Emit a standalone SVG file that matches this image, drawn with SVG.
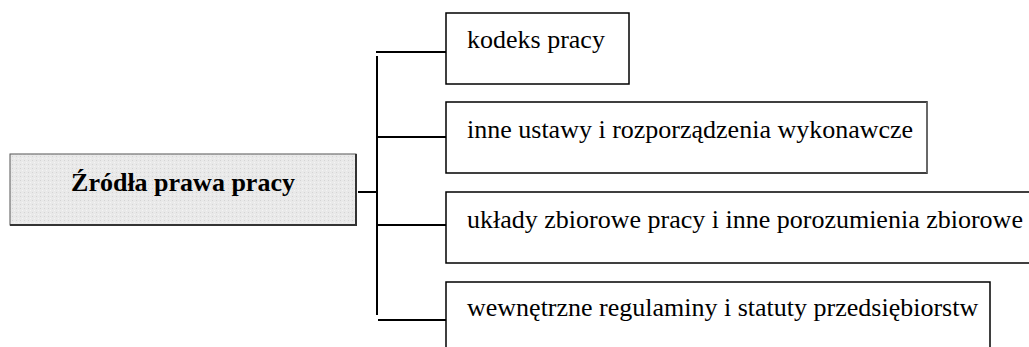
<svg xmlns="http://www.w3.org/2000/svg" width="1029" height="347" viewBox="0 0 1029 347">
<style>
.box{fill:#ffffff;stroke:#000000;stroke-width:1.5}
.t{font-family:'Liberation Serif','Times New Roman',serif;font-size:26px;fill:#000000}
.title{font-family:'Liberation Serif','Times New Roman',serif;font-size:26px;font-weight:bold;fill:#000000}
.conn line{stroke:#000000;stroke-width:2}
</style>
<defs>
<pattern id="dots" width="4" height="4" patternUnits="userSpaceOnUse">
<rect width="4" height="4" fill="#e9e9e9"/>
<rect x="0" y="0" width="1" height="1" fill="#d4d4d4"/>
<rect x="2" y="2" width="1" height="1" fill="#f4f4f4"/>
</pattern>
</defs>
<g id="main">
<rect x="10" y="154" width="346" height="71" fill="url(#dots)" stroke="#555555" stroke-width="1"/>
<polyline points="356,154 356,225 10,225" fill="none" stroke="#333333" stroke-width="2"/>
<text class="title" x="183" y="191" text-anchor="middle">Źródła prawa pracy</text>
</g>
<g id="conn" class="conn">
<line x1="377" y1="56" x2="377" y2="315"/>
<line x1="358" y1="192" x2="376" y2="192"/>
<line x1="376" y1="52" x2="446" y2="52"/>
<line x1="377" y1="137" x2="446" y2="137"/>
<line x1="377" y1="225" x2="446" y2="225"/>
<line x1="378" y1="320" x2="446" y2="320"/>
</g>
<g id="n1">
<rect class="box" x="446" y="13" width="183" height="71"/>
<text class="t" x="467" y="48">kodeks pracy</text>
</g>
<g id="n2">
<rect class="box" x="446" y="102" width="481" height="71"/>
<line x1="927" y1="102" x2="927" y2="173" stroke="#777777" stroke-width="1.5"/>
<text class="t" x="467" y="138">inne ustawy i rozporządzenia wykonawcze</text>
</g>
<g id="n3">
<rect class="box" x="446" y="192" width="600" height="71"/>
<text class="t" x="467" y="228">układy zbiorowe pracy i inne porozumienia zbiorowe</text>
</g>
<g id="n4">
<rect class="box" x="446" y="282" width="544" height="71"/>
<text class="t" x="467" y="316">wewnętrzne regulaminy i statuty przedsiębiorstw</text>
</g>
</svg>
